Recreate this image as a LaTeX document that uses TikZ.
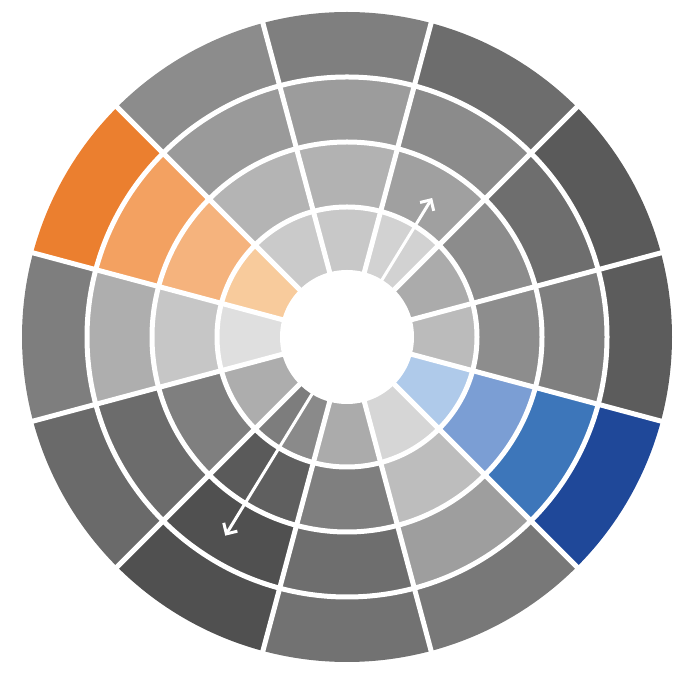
\documentclass[tikz,border=0pt]{standalone}
\usetikzlibrary{arrows.meta}
\definecolor{orA}{RGB}{248,203,156}
\definecolor{orB}{RGB}{245,179,125}
\definecolor{orC}{RGB}{243,161,97}
\definecolor{orD}{RGB}{235,127,47}
\definecolor{blA}{RGB}{175,202,234}
\definecolor{blB}{RGB}{123,158,212}
\definecolor{blC}{RGB}{61,118,186}
\definecolor{blD}{RGB}{31,72,153}
\newcommand\wheelseg[5]{\fill[#5] ([shift={(C)}]#1:#3) arc[start angle=#1,end angle=#2,radius=#3] -- ([shift={(C)}]#2:#4) arc[start angle=#2,end angle=#1,radius=#4] -- cycle;}
\begin{document}
\begin{tikzpicture}[x=1pt,y=1pt,
  gap/.style={white,line width=5pt},
  arrowline/.style={white,line width=3pt,-{Straight Barb[length=8pt,width=16pt,line width=3pt]}}]
\useasboundingbox (0,0) rectangle (688,674);
\coordinate (C) at (347,337);
% gray sectors: centre angle / ring1 / ring2 / ring3 / ring4 grey levels
\foreach \k/\ga/\gb/\gc/\gd in {0/187/141/127/92, 30/171/140/110/90, 60/210/160/139/109,
  90/200/178/156/127, 120/202/180/154/140, 180/223/198/174/126, 210/173/127/108/106,
  240/125/90/80/80, 270/171/127/110/114, 300/214/189/158/120}{
  \pgfmathsetmacro\sa{\k-15}
  \pgfmathsetmacro\sb{\k+15}
  \definecolor{cA}{RGB}{\ga,\ga,\ga}
  \definecolor{cB}{RGB}{\gb,\gb,\gb}
  \definecolor{cC}{RGB}{\gc,\gc,\gc}
  \definecolor{cD}{RGB}{\gd,\gd,\gd}
  \wheelseg{\sa}{\sb}{60}{130}{cA}
  \wheelseg{\sa}{\sb}{130}{195}{cB}
  \wheelseg{\sa}{\sb}{195}{260}{cC}
  \wheelseg{\sa}{\sb}{260}{325}{cD}
}
% split parts of the 240 sector beside the arrow
\definecolor{sA}{RGB}{138,138,138}
\definecolor{sB}{RGB}{95,95,95}
\wheelseg{238.5}{255}{60}{130}{sA}
\wheelseg{238.5}{255}{130}{195}{sB}
% orange sector
\wheelseg{135}{165}{60}{130}{orA}
\wheelseg{135}{165}{130}{195}{orB}
\wheelseg{135}{165}{195}{260}{orC}
\wheelseg{135}{165}{260}{325}{orD}
% blue sector
\wheelseg{-45}{-15}{60}{130}{blA}
\wheelseg{-45}{-15}{130}{195}{blB}
\wheelseg{-45}{-15}{195}{260}{blC}
\wheelseg{-45}{-15}{260}{325}{blD}
% white hole, rings and spokes
\fill[white] (C) circle (67);
\foreach \r in {130,195,260} \draw[gap] (C) circle (\r);
\foreach \k in {15,45,...,345} \draw[gap] ([shift={(C)}]\k:62) -- ([shift={(C)}]\k:327);
% arrows
\coordinate (upS) at ([shift={(C)}]58.5:66);
\coordinate (upE) at ([shift={(C)}]58.5:163);
\coordinate (dnS) at ([shift={(C)}]238.5:66);
\coordinate (dnE) at ([shift={(C)}]238.5:233);
\draw[arrowline] (upS) -- (upE);
\draw[arrowline] (dnS) -- (dnE);
\end{tikzpicture}
\end{document}
